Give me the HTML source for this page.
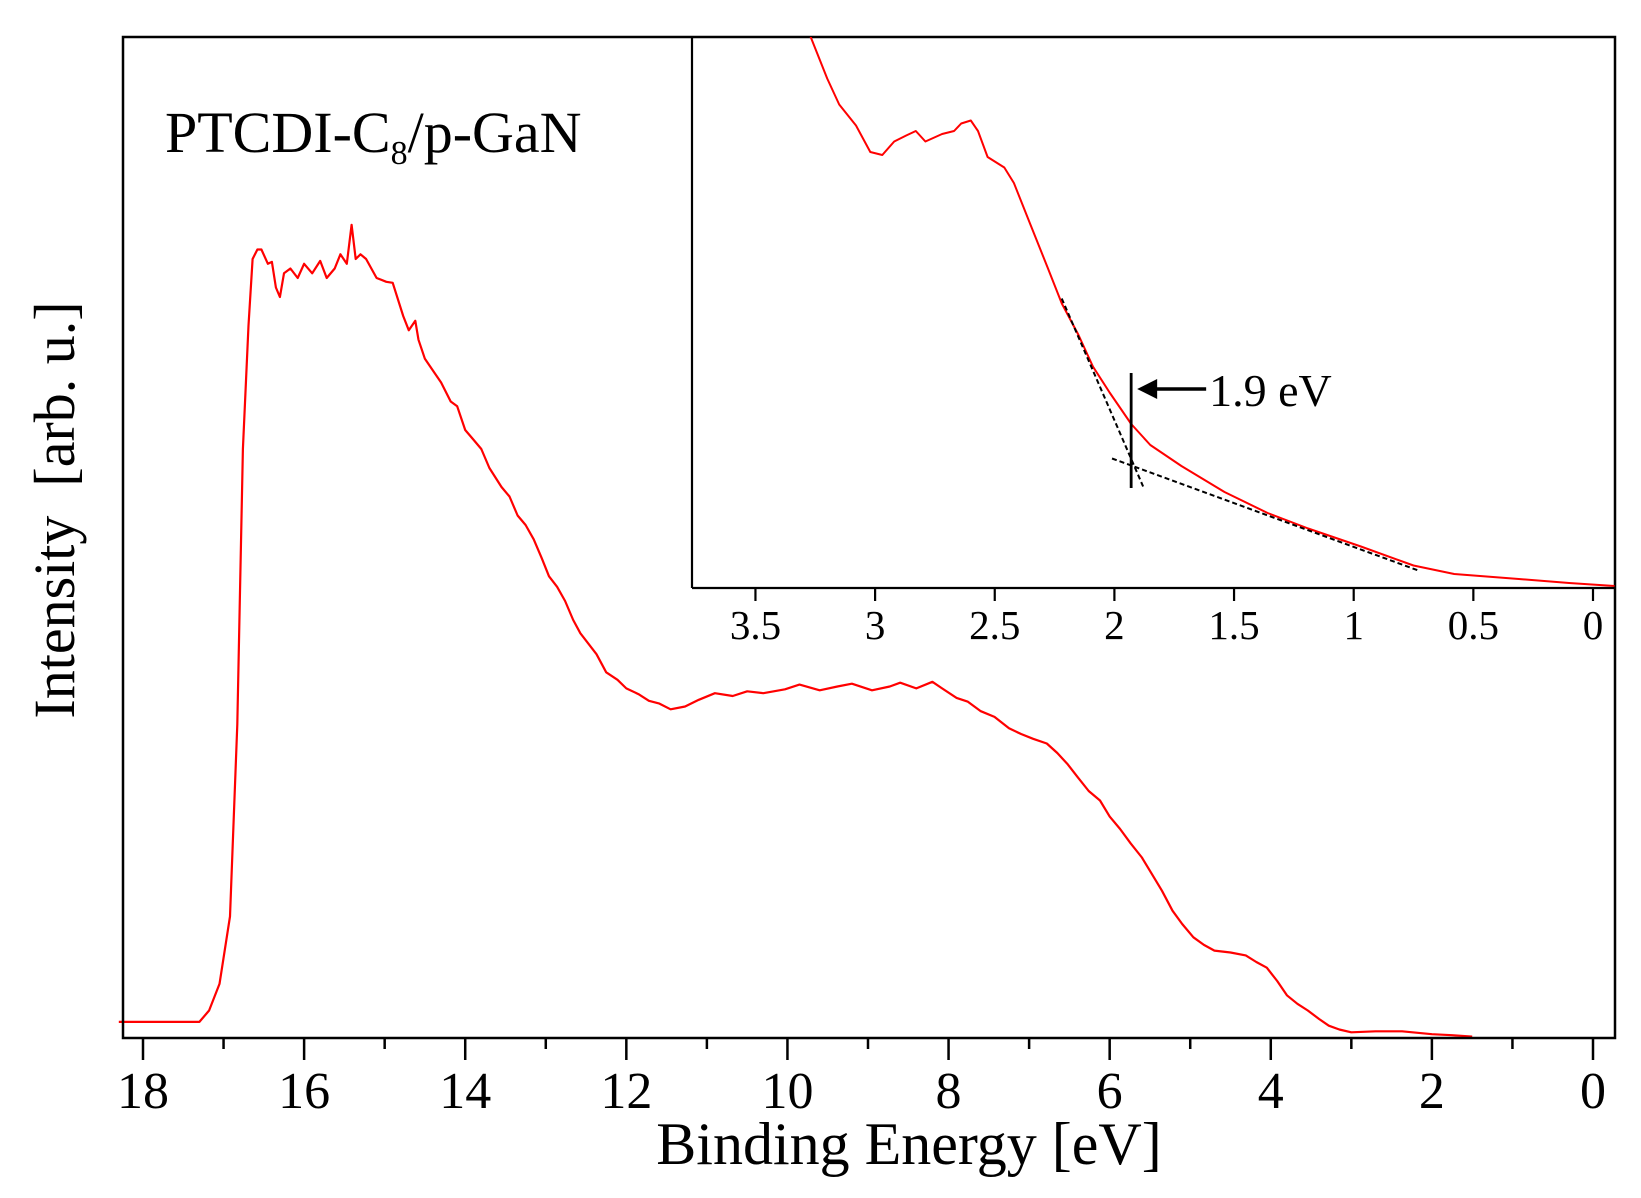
<!DOCTYPE html>
<html><head><meta charset="utf-8">
<style>
html,body{margin:0;padding:0;background:#fff;}
svg{display:block;font-family:"Liberation Serif","DejaVu Serif",serif;}
</style></head>
<body>
<svg id="chart" width="1641" height="1198" viewBox="0 0 1641 1198" xmlns="http://www.w3.org/2000/svg">
<rect x="0" y="0" width="1641" height="1198" fill="#fff"/>
<g id="main"></g>
<g id="inset"></g>
<text x="165" y="152" font-size="58">PTCDI-C<tspan font-size="34" dy="12">8</tspan><tspan dy="-12">/p-GaN</tspan></text>
<text x="909" y="1164" font-size="60" text-anchor="middle">Binding Energy [eV]</text>
<text transform="translate(74,510) rotate(-90)" font-size="58" text-anchor="middle" xml:space="preserve">Intensity  [arb. u.]</text>
</svg>
<script>
// Main spectrum data
const mainEnergy = [18.3,18.0,17.8,17.5,17.3,17.18,17.05,16.92,16.83,16.76,16.69,16.64,16.58,16.53,16.45,16.4,16.35,16.3,16.25,16.17,16.08,16.0,15.9,15.8,15.72,15.62,15.55,15.47,15.41,15.36,15.3,15.23,15.1,14.98,14.9,14.77,14.7,14.62,14.58,14.5,14.38,14.3,14.18,14.1,14.0,13.9,13.8,13.7,13.55,13.45,13.35,13.25,13.15,13.05,12.96,12.86,12.76,12.66,12.57,12.47,12.37,12.25,12.11,12.0,11.85,11.72,11.59,11.45,11.27,11.1,10.9,10.68,10.5,10.3,10.03,9.85,9.6,9.38,9.2,8.95,8.73,8.6,8.4,8.2,8.08,7.9,7.76,7.6,7.43,7.25,7.1,6.95,6.78,6.65,6.52,6.4,6.26,6.12,6.0,5.87,5.74,5.6,5.48,5.35,5.22,5.1,4.96,4.83,4.7,4.5,4.31,4.18,4.05,3.92,3.8,3.67,3.54,3.4,3.28,3.15,3.0,2.7,2.37,2.0,1.75,1.5];
const mainIntensity = [1.7,1.7,1.7,1.7,1.7,2.9,5.7,12.8,33,62,75,82,83,83,81.5,81.7,79,78,80.5,81,80,81.5,80.5,81.8,80,81,82.5,81.5,85.6,82,82.5,82,80,79.6,79.5,76,74.5,75.5,73.5,71.5,70,69,67,66.5,64,63,62,60,58,57,55,54,52.5,50.5,48.6,47.5,46,44,42.6,41.5,40.4,38.5,37.7,36.8,36.2,35.5,35.2,34.6,34.9,35.6,36.3,36,36.5,36.3,36.7,37.2,36.6,37,37.3,36.6,37,37.4,36.8,37.5,36.8,35.8,35.4,34.4,33.8,32.6,32,31.5,31,30,28.8,27.5,26,25,23.3,22,20.5,19,17.3,15.5,13.4,12,10.6,9.8,9.2,9.0,8.7,8.0,7.4,6,4.5,3.6,2.9,2.0,1.3,0.9,0.6,0.7,0.7,0.4,0.3,0.15];
const mainMajorTicks = [0,2,4,6,8,10,12,14,16,18];
const mainMinorTicks = [1,3,5,7,9,11,13,15,17];
// Inset data
const insetEnergy = [3.27,3.2,3.15,3.08,3.02,2.97,2.92,2.87,2.83,2.79,2.72,2.67,2.64,2.6,2.57,2.53,2.46,2.42,2.35,2.28,2.22,2.15,2.09,2.02,1.93,1.85,1.72,1.54,1.36,1.19,0.97,0.75,0.58,0.31,0.1,-0.09];
const insetIntensity = [110.3,101.9,96.7,92.5,87.2,86.6,89.3,90.5,91.4,89.3,90.8,91.4,92.9,93.5,91.4,86.2,84.1,81,72.6,64.2,56.9,50.6,44.3,39.1,32.8,28.6,24.4,19.2,15,11.9,8.3,4.5,2.8,1.8,1,0.4];
const insetTicks = [0,0.5,1,1.5,2,2.5,3,3.5];
const tangentSteepE = [2.22,1.88];
const tangentSteepI = [57.9,20.3];
const tangentShallowE = [2.01,0.73];
const tangentShallowI = [25.9,3.5];
const onsetEnergy = 1.93;
const onsetRangeI = [20,43];

const NS='http://www.w3.org/2000/svg';
function mk(tag,attrs,parent){const e=document.createElementNS(NS,tag);for(const k in attrs)e.setAttribute(k,attrs[k]);parent.appendChild(e);return e;}

const L=123,R=1615,T=37,B=1038;
const mx=E=>1593-E*(1450/18);
const my=I=>1038-I*9.5;
const main=document.getElementById('main');
let pts=mainEnergy.map((e,i)=>mx(e).toFixed(1)+','+my(mainIntensity[i]).toFixed(1)).join(' ');
const mline=mk('polyline',{points:pts,fill:'none',stroke:'#f00','stroke-width':2.2,'stroke-linejoin':'round'},main);


const frame=mk('rect',{x:L,y:T,width:R-L,height:B-T,fill:'none',stroke:'#000','stroke-width':2.5},main);


mainMajorTicks.forEach(v=>{
  const t=mk('line',{x1:mx(v),x2:mx(v),y1:B,y2:B+22,stroke:'#000','stroke-width':2.5},main);
  
  
  const l=mk('text',{x:mx(v),y:1108,'font-size':52,'text-anchor':'middle'},main);
  l.textContent=v;
  
  
});
mainMinorTicks.forEach(v=>{
  const t=mk('line',{x1:mx(v),x2:mx(v),y1:B,y2:B+11,stroke:'#000','stroke-width':2.5},main);
  
  
});

const iL=692,iB=588,iR=1615;
const ix=E=>1593-E*239.3;
const iy=I=>588-I*5;
const inset=document.getElementById('inset');
const bg=mk('rect',{x:iL,y:T+2,width:iR-iL-2,height:iB-T-2,fill:'#fff'},inset);


const clip=mk('clipPath',{id:'ic'},inset);
mk('rect',{x:iL,y:T,width:iR-iL,height:iB-T},clip);
pts=insetEnergy.map((e,i)=>ix(e).toFixed(1)+','+iy(insetIntensity[i]).toFixed(1)).join(' ');
const il=mk('polyline',{points:pts,fill:'none',stroke:'#f00','stroke-width':2,'clip-path':'url(#ic)','stroke-linejoin':'round'},inset);


const t1=mk('line',{x1:ix(tangentSteepE[0]),y1:iy(tangentSteepI[0]),x2:ix(tangentSteepE[1]),y2:iy(tangentSteepI[1]),stroke:'#000','stroke-width':2,'stroke-dasharray':'5,3'},inset);


const t2=mk('line',{x1:ix(tangentShallowE[0]),y1:iy(tangentShallowI[0]),x2:ix(tangentShallowE[1]),y2:iy(tangentShallowI[1]),stroke:'#000','stroke-width':2,'stroke-dasharray':'5,3'},inset);


const vm=mk('line',{x1:ix(onsetEnergy),x2:ix(onsetEnergy),y1:iy(onsetRangeI[1]),y2:iy(onsetRangeI[0]),stroke:'#000','stroke-width':2.8},inset);


const ay=iy(onsetRangeI[1])+16;
const ar=mk('line',{x1:ix(onsetEnergy)+75,x2:ix(onsetEnergy)+22,y1:ay,y2:ay,stroke:'#000','stroke-width':3.5},inset);


const ah=mk('polygon',{points:`${ix(onsetEnergy)+6},${ay} ${ix(onsetEnergy)+26},${ay-10} ${ix(onsetEnergy)+26},${ay+10}`,fill:'#000'},inset);


const ot=mk('text',{x:ix(onsetEnergy)+78,y:ay+17,'font-size':46},inset);
ot.textContent='1.9 eV';


const ax1=mk('line',{x1:iL,x2:iL,y1:T,y2:iB,stroke:'#000','stroke-width':2.2},inset);


const ax2=mk('line',{x1:iL,x2:iR,y1:iB,y2:iB,stroke:'#000','stroke-width':2.2},inset);


insetTicks.forEach(v=>{
  const t=mk('line',{x1:ix(v),x2:ix(v),y1:iB,y2:iB+13,stroke:'#000','stroke-width':2.2},inset);
  
  
  const l=mk('text',{x:ix(v),y:639,'font-size':41,'text-anchor':'middle'},inset);
  l.textContent=v;
  
  
});
</script>
</body></html>
